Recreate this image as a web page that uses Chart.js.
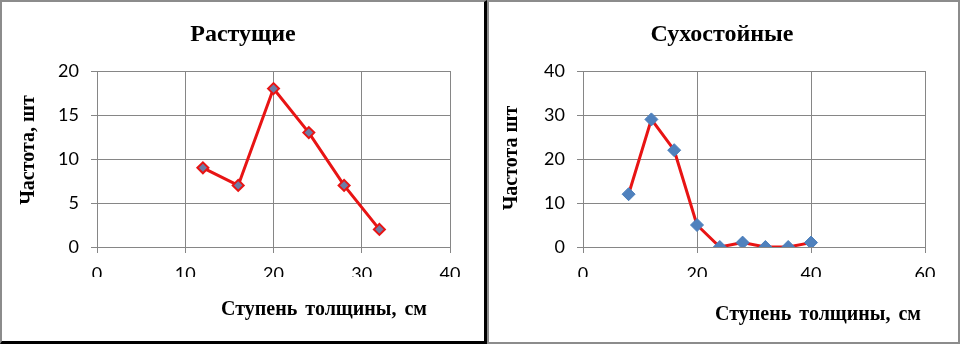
<!DOCTYPE html>
<html>
<head>
<meta charset="utf-8">
<script src="https://cdn.jsdelivr.net/npm/chart.js"></script>
<style>
  html, body { margin: 0; padding: 0; background: #fff; }
  body { width: 960px; height: 344px; position: relative; overflow: hidden; }
  .panel { position: absolute; top: 0; box-sizing: border-box; }
  #p1 { left: 0; width: 487px; height: 344px; border-left: 2px solid #8c8c8c; border-top: 2px solid #8c8c8c; border-right: 3px solid #000; border-bottom: 3px solid #000; }
  #p2 { left: 487px; width: 473px; height: 344px; border: 2px solid #8c8c8c; }
  canvas { position: absolute; }
  .t { position: absolute; font-family: "Liberation Serif", "Times New Roman", serif; font-weight: bold; color: #000; white-space: nowrap; }
  .title { font-size: 24px; transform: translate(-50%, -50%); }
  .axt { font-size: 20px; transform: translate(-50%, -50%); }
  .axx { font-size: 20px; word-spacing: 3px; transform: translate(-50%, -50%); }
  .rot { transform: translate(-50%, -50%) rotate(-90deg); }
</style>
</head>
<body>
<canvas id="c1" width="484" height="342" style="left:0;top:0;width:484px;height:342px"></canvas>
<canvas id="c2" width="473" height="342" style="left:487px;top:0;width:473px;height:342px"></canvas>
<div class="panel" id="p1"></div>
<div class="panel" id="p2"></div>

<div class="t title" style="left:243px;top:33px">Растущие</div>
<div class="t axt rot" style="left:27px;top:150px">Частота, шт</div>
<div class="t axx" style="left:324px;top:308px">Ступень толщины, см</div>

<div class="t title" style="left:722px;top:33px">Сухостойные</div>
<div class="t axt rot" style="left:510px;top:158px">Частота шт</div>
<div class="t axx" style="left:818px;top:313px">Ступень толщины, см</div>

<script>
// Растущие
const growX = [12, 16, 20, 24, 28, 32];
const growY = [9, 7, 18, 13, 7, 2];
// Сухостойные
const deadX = [8, 12, 16, 20, 24, 28, 32, 36, 40];
const deadY = [12, 29, 22, 5, 0, 1, 0, 0, 1];

const growXTicks = [0, 10, 20, 30, 40];
const growYTicks = [0, 5, 10, 15, 20];
const deadXTicks = [0, 20, 40, 60];
const deadYTicks = [0, 10, 20, 30, 40];

const gridColor = '#868686';
const tickFont = { family: "Lato, 'Open Sans', sans-serif", size: 18 };

function makeChart(id, xs, ys, xTicks, yTicks, pad, point) {
    const pts = xs.map((x, i) => ({ x: x, y: ys[i] }));
    return new Chart(document.getElementById(id), {
        type: 'line',
        data: {
            datasets: [{
                data: pts,
                borderColor: '#e81414',
                borderWidth: 3,
                pointStyle: 'rectRot',
                pointRadius: point.r,
                pointBackgroundColor: point.fill,
                pointBorderColor: point.border,
                pointBorderWidth: point.bw,
                tension: 0
            }]
        },
        options: {
            responsive: false,
            animation: false,
            layout: { padding: pad },
            plugins: { legend: { display: false }, tooltip: { enabled: false } },
            scales: {
                x: {
                    type: 'linear',
                    min: xTicks[0], max: xTicks[xTicks.length - 1],
                    afterBuildTicks: s => { s.ticks = xTicks.map(v => ({ value: v })); },
                    afterFit: s => { s.height = 30; },
                    grid: { color: gridColor, tickLength: 6, lineWidth: 1 },
                    border: { color: gridColor },
                    ticks: { color: '#000', font: tickFont, padding: 10, maxRotation: 0 }
                },
                y: {
                    min: yTicks[0], max: yTicks[yTicks.length - 1],
                    afterBuildTicks: s => { s.ticks = yTicks.map(v => ({ value: v })); },
                    afterFit: s => { s.width = 55; },
                    grid: { color: gridColor, tickLength: 6, lineWidth: 1 },
                    border: { color: gridColor },
                    ticks: { color: '#000', font: tickFont, padding: 12 }
                }
            }
        }
    });
}

makeChart('c1', growX, growY, growXTicks, growYTicks,
    { top: 71, left: 42, right: 34, bottom: 65 },
    { r: 5.5, fill: '#6d7ca6', border: '#e81414', bw: 2 });
makeChart('c2', deadX, deadY, deadXTicks, deadYTicks,
    { top: 71, left: 41, right: 35, bottom: 65 },
    { r: 6.5, fill: '#4f81bd', border: '#4a7ebb', bw: 1 });
</script>
</body>
</html>
